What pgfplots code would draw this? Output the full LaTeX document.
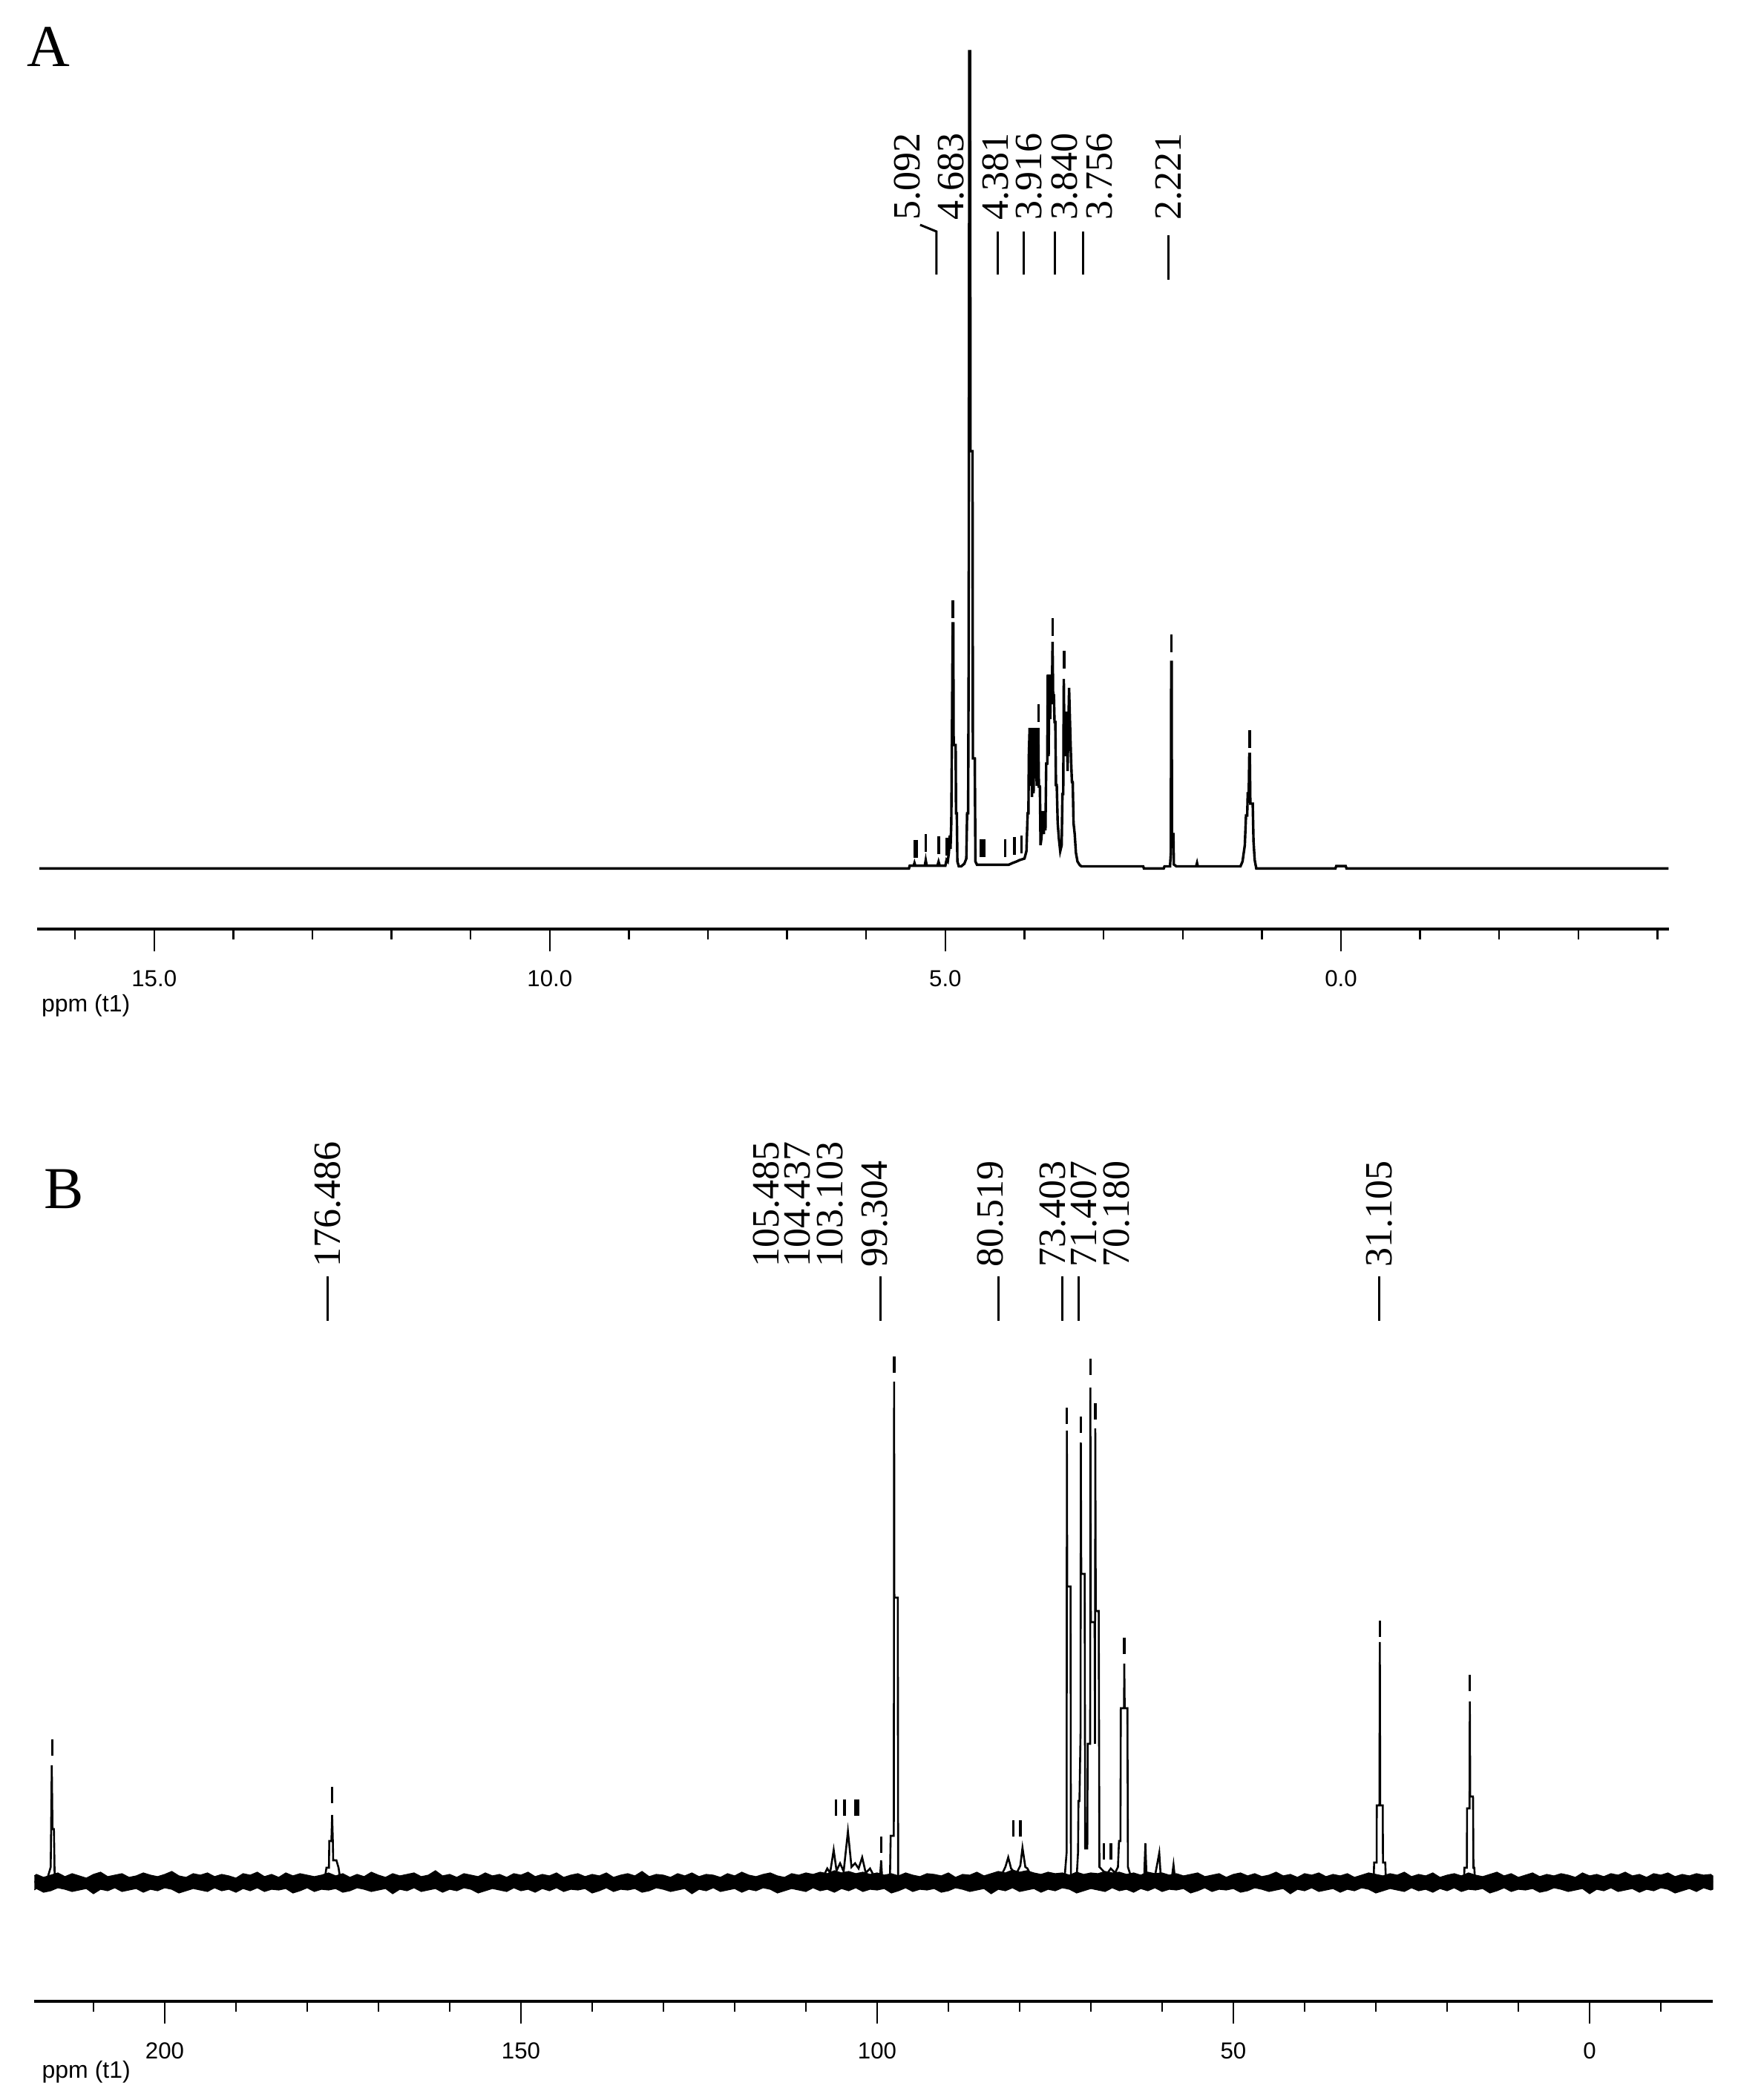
\documentclass[border=0pt]{standalone}
\usepackage{fontspec}
\usepackage{pgfplots}
\pgfplotsset{compat=1.18}
\newfontfamily\sansf{Liberation Sans}
\newfontfamily\seriff{Liberation Serif}
\tikzset{lbl/.style={rotate=90, anchor=west, inner sep=0pt, font=\seriff\fontsize{13}{15}\selectfont}}
\pgfplotsset{nmr/.style={
  scale only axis, anchor=south west,
  x dir=reverse,
  axis x line=bottom, axis y line=none,
  axis line style={-, line width=1pt, black},
  tick align=outside,
  major tick length=7.5pt, minor tick length=3.5pt,
  tick style={black, line width=0.6pt},
  xticklabel style={font=\sansf\fontsize{7.8}{9}\selectfont, yshift=-3pt},
  clip=false,
}}
\begin{document}
\begin{tikzpicture}
\path[use as bounding box] (0,0) rectangle (585.5pt,707.5pt);
% ---------------- Panel A ----------------
\begin{axis}[nmr,
  at={(12.5pt,394.5pt)}, width=549.75pt, height=298.25pt,
  xmin=-4.146, xmax=16.48, ymin=-83, ymax=1110,
  xtick={0,5,10,15}, xticklabels={0.0,5.0,10.0,15.0},
  minor xtick={-4,-3,...,16},
]
\addplot[black, line width=0.85pt] coordinates {
(16.45,-1.4)(5.46,-1.4)(5.45,2.4)
(5.40,2.4)(5.39,6)(5.38,2.4)
(5.26,2.4)(5.248,9.8)(5.236,2.4)
(5.10,2.4)(5.086,7.7)(5.072,2.4)
(5.00,2.4)(4.985,10)(4.97,8)(4.955,20)(4.945,43)(4.935,25)(4.925,60)
(4.915,200)(4.907,329)(4.900,329)(4.895,165)(4.870,165)(4.865,73)(4.855,73)(4.848,8)(4.83,1.5)(4.80,1.5)(4.76,5)(4.735,12)
(4.725,73)(4.712,73)(4.705,300)(4.697,1100)(4.688,1100)(4.682,561)(4.657,561)(4.652,147)(4.628,147)(4.620,8)(4.60,3.6)
(4.30,3.6)(4.20,3.6)(4.15,6)(4.10,8)(4.06,10)(4.0,12)(3.975,22)
(3.960,73)(3.950,73)(3.945,150)(3.935,188)(3.925,110)(3.915,188)(3.905,95)(3.895,188)(3.885,100)(3.875,188)(3.865,120)(3.855,188)(3.845,110)(3.835,160)(3.826,188)(3.818,109)(3.805,109)(3.797,30)(3.785,40)(3.770,76)(3.755,45)(3.745,76)(3.735,50)(3.725,140)(3.712,140)(3.705,260)(3.695,150)(3.685,260)(3.675,200)(3.665,260)(3.655,220)(3.645,304)(3.638,232)(3.628,232)(3.620,196)(3.610,196)(3.602,111)(3.592,111)(3.580,60)(3.565,39)(3.548,22)(3.530,30)(3.520,99)(3.510,99)(3.503,254)(3.495,160)(3.485,200)(3.475,150)(3.465,210)(3.455,130)(3.445,190)(3.436,242)(3.428,209)(3.418,170)(3.410,142)(3.400,115)(3.390,115)(3.380,60)(3.365,45)(3.350,20)(3.330,8)(3.300,3)(3.28,1.5)
(2.50,1.5)(2.49,-1.4)(2.24,-1.4)(2.23,1.5)
(2.16,1.5)(2.150,20)(2.145,277)(2.140,277)(2.136,45)(2.118,45)(2.112,4)(2.08,1.5)
(1.83,1.5)(1.819,6)(1.81,1.5)
(1.27,1.5)(1.244,8)(1.215,30)(1.200,70)(1.185,70)(1.178,100)(1.165,100)(1.158,153)(1.152,153)(1.145,86)(1.115,86)(1.105,35)(1.090,10)(1.07,-1.4)
(0.07,-1.4)(0.06,1.8)(-0.06,1.8)(-0.07,-1.4)
(-4.14,-1.4)
};
\addplot[only marks, mark=|, mark size=3pt, mark options={line width=0.9pt, black}] coordinates {
(5.39,25)(5.36,25)(5.248,33)(5.086,30)(4.978,28)(4.907,348)(4.548,26)(4.51,26)(4.243,26)(4.125,29)(4.036,31)(3.822,208)(3.643,324)(3.499,280)(2.143,302)(1.155,173)
};
\node[lbl] at (axis cs:5.478,872) {5.092};
\node[lbl] at (axis cs:4.925,872) {4.683};
\node[lbl] at (axis cs:4.362,872) {4.381};
\node[lbl] at (axis cs:3.940,872) {3.916};
\node[lbl] at (axis cs:3.490,872) {3.840};
\node[lbl] at (axis cs:3.049,872) {3.756};
\node[lbl] at (axis cs:2.176,872) {2.221};
\draw[line width=0.75pt] (axis cs:5.113,799) -- (axis cs:5.113,857) -- (axis cs:5.319,866);
\draw[line width=0.75pt] (axis cs:4.334,799) -- (axis cs:4.334,857);
\draw[line width=0.75pt] (axis cs:4.006,799) -- (axis cs:4.006,857);
\draw[line width=0.75pt] (axis cs:3.612,799) -- (axis cs:3.612,857);
\draw[line width=0.75pt] (axis cs:3.255,799) -- (axis cs:3.255,857);
\draw[line width=0.75pt] (axis cs:2.176,792) -- (axis cs:2.176,852);
\node[anchor=west, inner sep=0pt, font=\sansf\fontsize{8}{9}\selectfont] at (axis cs:16.43,-186) {ppm (t1)};
\end{axis}
% ---------------- Panel B ----------------
\begin{axis}[nmr,
  at={(11.5pt,33.25pt)}, width=565.5pt, height=292.75pt,
  xmin=-17.29, xmax=218.33, ymin=-161, ymax=1010,
  xtick={0,50,100,150,200}, xticklabels={0,50,100,150,200},
  minor xtick={-10,0,...,210},
]
% noise band of the baseline: upper edge, then lower edge back
\addplot[black, fill=black, line width=0.3pt] coordinates {
(218.3,8)(218,10)(217,6)(216,9)(215,12)(214,7)(213,11)(212,8)(211,5)(210,10)(209,13)
(208,7)(207,9)(206,11)(205,6)(204,8)(203,12)(202,9)(201,7)(200,10)(199,14)
(198,8)(197,6)(196,11)(195,9)(194,12)(193,7)(192,10)(191,8)(190,5)(189,11)
(188,9)(187,13)(186,7)(185,10)(184,6)(183,12)(182,8)(181,11)(180,9)(179,7)
(178,9)(177,12)(176,8)(175,11)(174,6)(173,10)(172,7)(171,13)(170,9)(169,6)
(168,11)(167,8)(166,10)(165,12)(164,7)(163,9)(162,15)(161,8)(160,10)(159,6)
(158,11)(157,9)(156,7)(155,12)(154,8)(153,10)(152,6)(151,11)(150,9)(149,13)
(148,7)(147,10)(146,8)(145,12)(144,6)(143,9)(142,11)(141,7)(140,10)(139,8)
(138,12)(137,6)(136,9)(135,11)(134,8)(133,14)(132,7)(131,10)(130,9)(129,6)
(128,11)(127,8)(126,12)(125,7)(124,10)(123,9)(122,6)(121,11)(120,8)(119,13)
(118,9)(117,7)(116,10)(115,12)(114,8)(113,6)(112,11)(111,9)(110,12)(109,10)
(108,13)(107,11)(106,15)(105,12)(104,14)(103,11)(102,13)(101,10)(100,12)(99,9)
(98,11)(97,8)(96,12)(95,9)(94,7)(93,11)(92,10)(91,8)(90,12)(89,6)
(88,10)(87,9)(86,13)(85,8)(84,11)(83,14)(82,12)(81,16)(80,13)(79,15)
(78,12)(77,10)(76,13)(75,11)(74,12)(73,9)(72,13)(71,10)(70,12)(69,11)
(68,14)(67,12)(66,13)(65,10)(64,12)(63,9)(62,13)(61,11)(60,12)(59,9)
(58,11)(57,8)(56,10)(55,12)(54,7)(53,9)(52,11)(51,6)(50,10)(49,12)
(48,8)(47,11)(46,7)(45,9)(44,13)(43,8)(42,10)(41,6)(40,11)(39,9)
(38,12)(37,7)(36,10)(35,8)(34,11)(33,6)(32,9)(31,12)(30,10)(29,8)
(28,11)(27,9)(26,13)(25,7)(24,10)(23,8)(22,12)(21,6)(20,9)(19,11)
(18,8)(17,12)(16,9)(15,7)(14,10)(13,13)(12,8)(11,11)(10,6)(9,9)
(8,12)(7,7)(6,10)(5,8)(4,11)(3,9)(2,6)(1,12)(0,8)(-1,10)
(-2,7)(-3,11)(-4,9)(-5,13)(-6,8)(-7,10)(-8,6)(-9,11)(-10,9)(-11,12)
(-12,7)(-13,10)(-14,8)(-15,11)(-16,9)(-17,10)(-17.3,8)
(-17.3,-10)(-17,-11)(-16,-8)(-15,-13)(-14,-9)(-13,-12)(-12,-15)(-11,-10)(-10,-8)(-9,-12)(-8,-10)
(-7,-14)(-6,-9)(-5,-11)(-4,-13)(-3,-8)(-2,-12)(-1,-10)(0,-16)(1,-9)(2,-11)
(3,-13)(4,-10)(5,-8)(6,-12)(7,-14)(8,-9)(9,-11)(10,-10)(11,-13)(12,-8)
(13,-12)(14,-15)(15,-9)(16,-11)(17,-10)(18,-13)(19,-8)(20,-12)(21,-9)(22,-14)
(23,-10)(24,-12)(25,-8)(26,-13)(27,-11)(28,-9)(29,-12)(30,-15)(31,-10)(32,-8)
(33,-12)(34,-10)(35,-14)(36,-9)(37,-11)(38,-13)(39,-8)(40,-12)(41,-10)(42,-16)
(43,-9)(44,-11)(45,-13)(46,-10)(47,-8)(48,-12)(49,-14)(50,-9)(51,-11)(52,-10)
(53,-13)(54,-8)(55,-12)(56,-15)(57,-9)(58,-11)(59,-10)(60,-13)(61,-8)(62,-12)
(63,-9)(64,-14)(65,-10)(66,-12)(67,-8)(68,-13)(69,-11)(70,-9)(71,-12)(72,-15)
(73,-10)(74,-8)(75,-12)(76,-10)(77,-14)(78,-9)(79,-11)(80,-13)(81,-8)(82,-12)
(83,-10)(84,-16)(85,-9)(86,-11)(87,-13)(88,-10)(89,-8)(90,-12)(91,-14)(92,-9)
(93,-11)(94,-10)(95,-13)(96,-8)(97,-12)(98,-15)(99,-9)(100,-11)(101,-10)(102,-13)
(103,-8)(104,-12)(105,-9)(106,-14)(107,-10)(108,-12)(109,-8)(110,-13)(111,-11)(112,-9)
(113,-12)(114,-15)(115,-10)(116,-8)(117,-12)(118,-10)(119,-14)(120,-9)(121,-11)(122,-13)
(123,-8)(124,-12)(125,-10)(126,-16)(127,-9)(128,-11)(129,-13)(130,-10)(131,-8)(132,-12)
(133,-14)(134,-9)(135,-11)(136,-10)(137,-13)(138,-8)(139,-12)(140,-15)(141,-9)(142,-11)
(143,-10)(144,-13)(145,-8)(146,-12)(147,-9)(148,-14)(149,-10)(150,-12)(151,-8)(152,-13)
(153,-11)(154,-9)(155,-12)(156,-15)(157,-10)(158,-8)(159,-12)(160,-10)(161,-14)(162,-9)
(163,-11)(164,-13)(165,-8)(166,-12)(167,-10)(168,-16)(169,-9)(170,-11)(171,-13)(172,-10)
(173,-8)(174,-12)(175,-14)(176,-9)(177,-11)(178,-10)(179,-13)(180,-8)(181,-12)(182,-15)
(183,-9)(184,-11)(185,-10)(186,-13)(187,-8)(188,-12)(189,-9)(190,-14)(191,-10)(192,-12)
(193,-8)(194,-13)(195,-11)(196,-9)(197,-12)(198,-15)(199,-10)(200,-8)(201,-12)(202,-10)
(203,-14)(204,-9)(205,-11)(206,-13)(207,-8)(208,-12)(209,-10)(210,-16)(211,-9)(212,-11)
(213,-13)(214,-10)(215,-8)(216,-12)(217,-14)(218,-9)(218.3,-11)
};
\addplot[black, line width=0.65pt] coordinates {
(218.3,0)(216.6,0)(216.0,20)(215.85,157)(215.75,71)(215.55,71)(215.45,10)(215.2,0)
(177.6,0)(177.3,19)(176.95,19)(176.9,55)(176.6,55)(176.5,90)(176.4,55)(176.35,29)(175.9,29)(175.6,19)(175.3,0)
(108.5,0)(107.5,8)(107.0,18)(106.6,12)(106.1,43)(105.7,15)(105.2,25)(104.7,14)(104.1,68)(103.6,20)(103.1,25)(102.6,18)(102.1,33)(101.6,12)(101.0,18)(100.3,5)(99.6,5)(99.44,29)(99.3,5)(98.2,5)
(98.1,62)(97.66,62)(97.62,674)(97.58,383)(97.1,383)(97.05,5)(96.8,0)
(83.5,0)(82.5,10)(82.0,20)(81.6,33)(81.2,18)(80.5,10)(79.9,22)(79.6,46)(79.2,20)(78.9,18)(78.5,10)(77.8,0)
(74.0,0)(73.65,10)(73.40,40)(73.37,608)(73.32,398)(72.85,398)(72.80,10)(72.4,-3)(72.0,5)(71.8,40)(71.74,109)(71.6,109)(71.45,200)(71.41,592)(71.35,415)(70.87,415)(70.8,45)(70.5,45)(70.45,186)(70.10,186)(70.07,666)(70.0,350)(69.48,350)(69.42,186)(69.38,611)(69.31,365)(68.90,365)(68.8,20)(68.3,15)(67.8,10)(67.2,18)(66.6,12)(66.2,20)(66.05,55)(65.85,55)(65.80,234)(65.35,234)(65.31,294)(65.25,234)(64.87,234)(64.8,20)(64.3,5)(63.5,5)(62.5,10)(62.35,52)(62.2,10)(61.0,8)(60.4,39)(60.2,8)(58.6,8)(58.4,23)(58.2,5)(57.5,0)
(31.0,0)(30.3,5)(30.24,26)(29.89,26)(29.87,103)(29.50,103)(29.44,323)(29.38,103)(29.03,103)(29.0,26)(28.68,26)(28.6,5)(28.0,0)
(18.2,0)(17.6,5)(17.57,19)(17.22,19)(17.20,99)(16.85,99)(16.81,243)(16.75,115)(16.36,115)(16.3,19)(16.18,19)(16.1,5)(15.5,0)(-17.3,0)
};
\addplot[only marks, mark=|, mark size=2.8pt, mark options={line width=0.85pt, black}] coordinates {
(215.8,181)(176.5,117)(105.8,100)(104.6,100)(103.1,100)(102.7,100)(99.44,50)(97.62,697)(80.9,72)(79.9,72)(73.37,628)(71.41,616)(70.07,694)(69.38,634)(68.2,41)(67.2,41)(65.31,318)(29.44,341)(16.81,268)
};
\node[lbl] at (axis cs:177.08,828) {176.486};
\node[lbl] at (axis cs:115.52,828) {105.485};
\node[lbl] at (axis cs:111.15,828) {104.437};
\node[lbl] at (axis cs:106.56,828) {103.103};
\node[lbl] at (axis cs:100.31,828) {99.304};
\node[lbl] at (axis cs:84.06,828) {80.519};
\node[lbl] at (axis cs:75.31,828) {73.403};
\node[lbl] at (axis cs:70.94,828) {71.407};
\node[lbl] at (axis cs:66.35,828) {70.180};
\node[lbl] at (axis cs:29.48,828) {31.105};
\draw[line width=0.75pt] (axis cs:177.08,756) -- (axis cs:177.08,816);
\draw[line width=0.75pt] (axis cs:99.58,756) -- (axis cs:99.58,816);
\draw[line width=0.75pt] (axis cs:82.92,756) -- (axis cs:82.92,816);
\draw[line width=0.75pt] (axis cs:73.96,756) -- (axis cs:73.96,816);
\draw[line width=0.75pt] (axis cs:71.67,756) -- (axis cs:71.67,816);
\draw[line width=0.75pt] (axis cs:29.48,756) -- (axis cs:29.48,816);
\node[anchor=west, inner sep=0pt, font=\sansf\fontsize{8}{9}\selectfont] at (axis cs:217.3,-256) {ppm (t1)};
\end{axis}
\node[inner sep=0pt, font=\seriff\fontsize{20}{24}\selectfont] at (16.25pt,691.75pt) {A};
\node[inner sep=0pt, font=\seriff\fontsize{20}{24}\selectfont] at (21.5pt,307pt) {B};
\end{tikzpicture}
\end{document}
